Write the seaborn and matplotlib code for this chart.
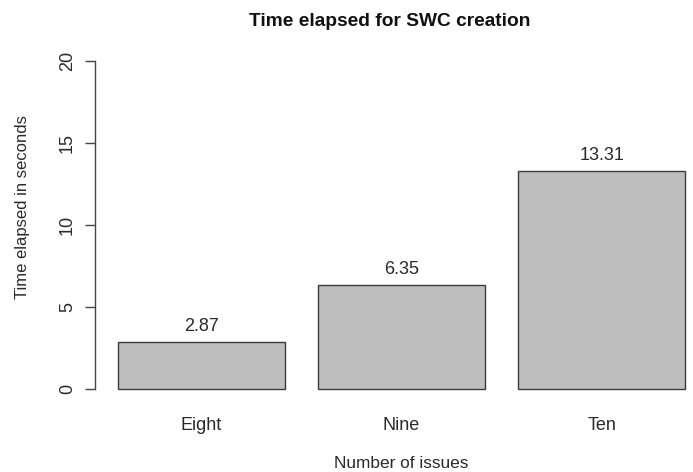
import matplotlib
matplotlib.use("Agg")
import matplotlib.pyplot as plt
import seaborn as sns
import pandas as pd

categories = ["Eight", "Nine", "Ten"]
values = [2.87, 6.35, 13.31]
value_labels = ["2.87", "6.35", "13.31"]
y_ticks = [0, 5, 10, 15, 20]

sns.set_style("white")
plt.rcParams['font.family'] = ['Liberation Sans', 'DejaVu Sans']

df = pd.DataFrame({"issues": categories, "time": values})

fig = plt.figure(figsize=(6.93, 4.72), dpi=100)
ax = fig.add_axes([0.1375, 0.148, 0.8837, 0.7504])
sns.barplot(data=df, x="issues", y="time", ax=ax, color="#bebebe",
            saturation=1, width=1/1.2, edgecolor="#3a3a3a", linewidth=1.0)

txt = "#2a2a2a"
for i, (v, lab) in enumerate(zip(values, value_labels)):
    ax.annotate(lab, (i, v), xytext=(0, 5), textcoords="offset points",
                ha="center", va="bottom", fontsize=13, color=txt)

ax.set_xlim(-0.53, 2.53)
ax.set_ylim(-0.8, 20.8)
ax.set_yticks(y_ticks)
ax.set_yticklabels([str(t) for t in y_ticks], rotation=90, va="center",
                   fontsize=13, color=txt)
for lbl in ax.get_xticklabels():
    lbl.set_fontsize(13)
    lbl.set_color(txt)
ax.tick_params(axis="x", length=0, pad=11)
ax.tick_params(axis="y", length=7, width=1, color="#444444", pad=7, left=True)

for s in ["top", "right", "bottom"]:
    ax.spines[s].set_visible(False)
ax.spines["left"].set_bounds(0, 20)
ax.spines["left"].set_color("#444444")
ax.spines["left"].set_linewidth(1)

ax.set_xlabel("")
ax.set_ylabel("")
fig.text(401 / 693, (472 - 463) / 472, "Number of issues", ha="center", va="center",
         fontsize=12.4, color=txt)
fig.text(23 / 693, (472 - 207) / 472, "Time elapsed in seconds",
         ha="center", va="center", rotation=90, fontsize=12, color=txt)
fig.text(0.563, (472 - 22) / 472, "Time elapsed for SWC creation", ha="center", va="center",
         fontsize=13.8, fontweight="bold", color="#111111")

fig.savefig("out.png", dpi=100)
